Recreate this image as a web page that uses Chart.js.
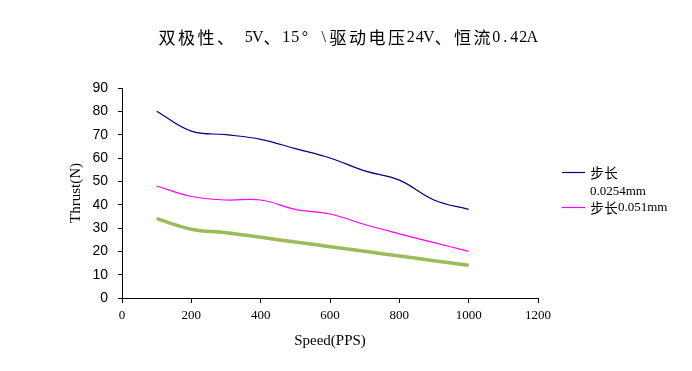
<!DOCTYPE html>
<html>
<head>
<meta charset="utf-8">
<script src="https://cdn.jsdelivr.net/npm/chart.js@4/dist/chart.umd.min.js"></script>
<style>
html,body{margin:0;padding:0;background:#fff;}
#wrap{width:692px;height:371px;}
</style>
</head>
<body>
<div id="wrap"><canvas id="c" width="692" height="371"></canvas></div>
<script>
const titleText = '双极性、 5V、15°\\驱动电压24V、恒流0.42A';
const xTitle = 'Speed(PPS)';
const yTitle = 'Thrust(N)';
const speeds = [100, 200, 300, 400, 500, 600, 700, 800, 900, 1000];
const step0254 = [80, 71.5, 70, 68, 64, 60, 54.5, 50.5, 42, 38];
const step051 = [48, 43.5, 42, 42, 38, 36, 31.5, 27.5, 23.7, 20];
const step3 = [34, 29.5, 28, 26, 24, 22, 20, 18, 16, 14];
const seriesNames = ['步长0.0254mm', '步长0.051mm', ''];
const legendLines = [['步长', '0.0254mm'], ['步长0.051mm']];
const xTicks = [0, 200, 400, 600, 800, 1000, 1200];
const yTicks = [0, 10, 20, 30, 40, 50, 60, 70, 80, 90];

const CJK = '"Noto Sans CJK SC"';
const SERIF = '"Liberation Serif", "Noto Sans CJK SC", serif';

function pts(vals) { return speeds.map((s, i) => ({x: s, y: vals[i]})); }
function isWide(ch) { return ch.charCodeAt(0) > 0x2000; }

// SimSun-like layout: CJK glyphs on full cells, Latin glyphs centred in half cells
function cellText(ctx, text, x, y, o, draw) {
  let cx = x;
  for (const ch of text) {
    let cell, w, off;
    if (isWide(ch)) {
      ctx.font = o.cjk + 'px ' + CJK;
      w = ctx.measureText(ch).width;
      cell = o.full;
      off = (cell - w) / 2;
    } else {
      ctx.font = o.lat + 'px ' + SERIF;
      w = ctx.measureText(ch).width;
      if (o.natural) { cell = w; off = 0; }
      else if (ch === '°') { cell = o.full; off = 2; }
      else { cell = o.half; off = (cell - w) / 2; }
    }
    if (draw) ctx.fillText(ch, cx + off, y);
    cx += cell;
  }
  return cx - x;
}

const decorPlugin = {
  id: 'decor',
  afterDraw(chart) {
    const ctx = chart.ctx;
    ctx.save();
    ctx.fillStyle = '#000';
    ctx.textBaseline = 'middle';
    ctx.textAlign = 'left';
    // title
    const tOpt = {cjk: 17, lat: 16, full: 19.5, half: 9};
    const w = cellText(ctx, titleText, 0, 0, tOpt, false);
    cellText(ctx, titleText, 347 - w / 2, 38, tOpt, true);
    // legend
    const lOpt = {cjk: 13.5, lat: 13, full: 14, half: 7, natural: true};
    const rows = [172.5, 207.5];
    [0, 1].forEach(i => {
      const ds = chart.data.datasets[i];
      const y = rows[i];
      ctx.strokeStyle = ds.borderColor;
      ctx.lineWidth = 1.2;
      ctx.beginPath();
      ctx.moveTo(562, y);
      ctx.lineTo(585, y);
      ctx.stroke();
      ctx.fillStyle = '#000';
      legendLines[i].forEach((t, j) => {
        cellText(ctx, t, 590, y + j * 19.5, lOpt, true);
      });
    });
    ctx.restore();
  }
};

new Chart(document.getElementById('c'), {
  type: 'line',
  data: {
    datasets: [
      {label: seriesNames[0], data: pts(step0254), borderColor: '#000080', borderWidth: 1.2, pointRadius: 0, tension: 0.4, fill: false},
      {label: seriesNames[1], data: pts(step051), borderColor: '#FF00FF', borderWidth: 1.2, pointRadius: 0, tension: 0.4, fill: false},
      {label: seriesNames[2], data: pts(step3), borderColor: '#9BBB59', borderWidth: 3.5, pointRadius: 0, tension: 0.4, fill: false}
    ]
  },
  options: {
    responsive: false,
    animation: false,
    layout: {padding: {left: 0, right: 154, top: 88, bottom: 0}},
    plugins: {
      legend: {display: false},
      tooltip: {enabled: false},
      title: {display: false}
    },
    scales: {
      x: {
        type: 'linear',
        min: 0, max: 1200,
        afterBuildTicks(scale) { scale.ticks = xTicks.map(v => ({value: v})); },
        afterFit(scale) { scale.height = 73; },
        grid: {display: true, drawOnChartArea: false, drawTicks: true, tickLength: 5, color: '#000', lineWidth: 1},
        border: {display: true, color: '#000', width: 1},
        ticks: {color: '#000', font: {family: '"Liberation Serif", serif', size: 13}, padding: 5, maxRotation: 0, callback: v => String(v)},
        title: {display: true, text: xTitle, color: '#000', font: {family: SERIF, size: 15, lineHeight: 1.2}, padding: {top: 4, bottom: 21}}
      },
      y: {
        type: 'linear',
        min: 0, max: 90,
        afterBuildTicks(scale) { scale.ticks = yTicks.map(v => ({value: v})); },
        afterFit(scale) { scale.width = 122; },
        grid: {display: true, drawOnChartArea: false, drawTicks: true, tickLength: 4, color: '#000', lineWidth: 1},
        border: {display: true, color: '#000', width: 1},
        ticks: {color: '#000', font: {family: '"Liberation Sans", Arial, sans-serif', size: 14}, padding: 10, callback: v => String(v)},
        title: {display: true, text: yTitle, color: '#000', font: {family: SERIF, size: 15, lineHeight: 1.2}, padding: {top: 67, bottom: 4}}
      }
    }
  },
  plugins: [decorPlugin]
});
</script>
</body>
</html>
